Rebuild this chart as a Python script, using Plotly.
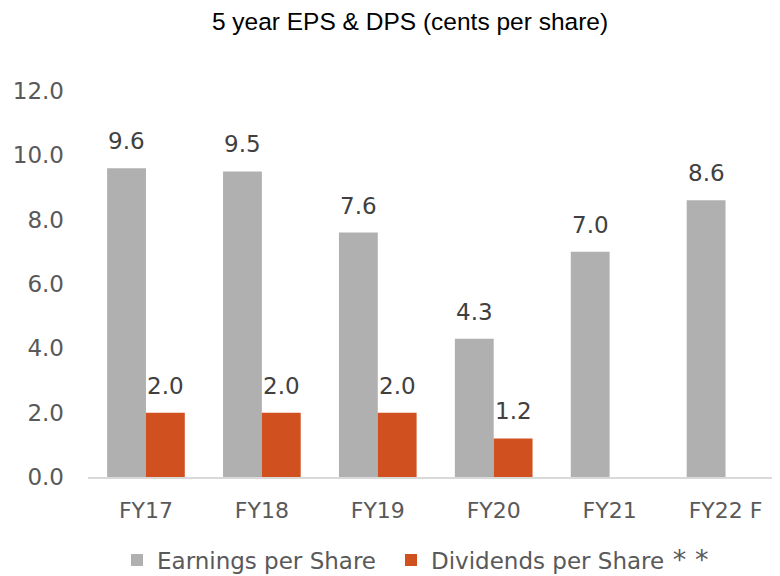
import plotly.graph_objects as go

categories = ["FY17", "FY18", "FY19", "FY20", "FY21", "FY22 F"]
eps = [9.6, 9.5, 7.6, 4.3, 7.0, 8.6]
dps = [2.0, 2.0, 2.0, 1.2, None, None]
y_ticks = [0, 2, 4, 6, 8, 10, 12]

GREY = "#b0b0b0"
ORANGE = "#d1501f"
TXT = "#595959"
LBL = "#404040"
BARGAP = 0.33

xs = list(range(len(categories)))

fig = go.Figure()
fig.add_trace(go.Bar(x=xs, y=eps, name="Earnings per Share", legendwidth=229,
                     marker=dict(color=GREY, line=dict(width=0))))
fig.add_trace(go.Bar(x=xs, y=dps,
                     name="Dividends per Share<span style='font-size:27px'> * *</span>",
                     marker=dict(color=ORANGE, line=dict(width=0))))

off = (1 - BARGAP) / 4
for series, sign in ((eps, -1), (dps, 1)):
    for x, v in zip(xs, series):
        if v is None:
            continue
        fig.add_annotation(x=x + sign * off, y=v, text=f"{v:.1f}",
                           showarrow=False, yanchor="bottom", yshift=12,
                           font=dict(family="DejaVu Sans", size=23, color=LBL))

# the page body adds an 8px offset, so margins compensate for it
fig.update_layout(
    width=780, height=576,
    margin=dict(l=80, r=8, t=83, b=107, autoexpand=False),
    paper_bgcolor="white", plot_bgcolor="white",
    barmode="group", bargap=BARGAP, bargroupgap=0,
    title=dict(text="5 year EPS &amp; DPS (cents per share)",
               x=402 / 780, xanchor="center", y=1 - 13 / 576, yanchor="middle",
               font=dict(family="Liberation Sans", size=24.5, color="black")),
    showlegend=True,
    legend=dict(orientation="h", x=(117 - 88) / 692, xanchor="left",
                y=-0.215, yanchor="middle",
                font=dict(family="DejaVu Sans", size=23, color=TXT),
                bgcolor="rgba(0,0,0,0)"),
    xaxis=dict(range=[-0.5, 5.47], tickvals=xs, ticktext=categories,
               showgrid=False, zeroline=False, showline=True, automargin=False,
               linecolor="#d9d9d9", linewidth=2, ticks="",
               ticklabelstandoff=13,
               tickfont=dict(family="DejaVu Sans", size=22, color=TXT)),
    yaxis=dict(range=[0, 12], tickvals=y_ticks, tickformat=".1f",
               showgrid=False, zeroline=False, showline=False, ticks="",
               ticklabelstandoff=23, automargin=False,
               tickfont=dict(family="DejaVu Sans", size=23, color=TXT)),
)

fig.write_html("out.html")
